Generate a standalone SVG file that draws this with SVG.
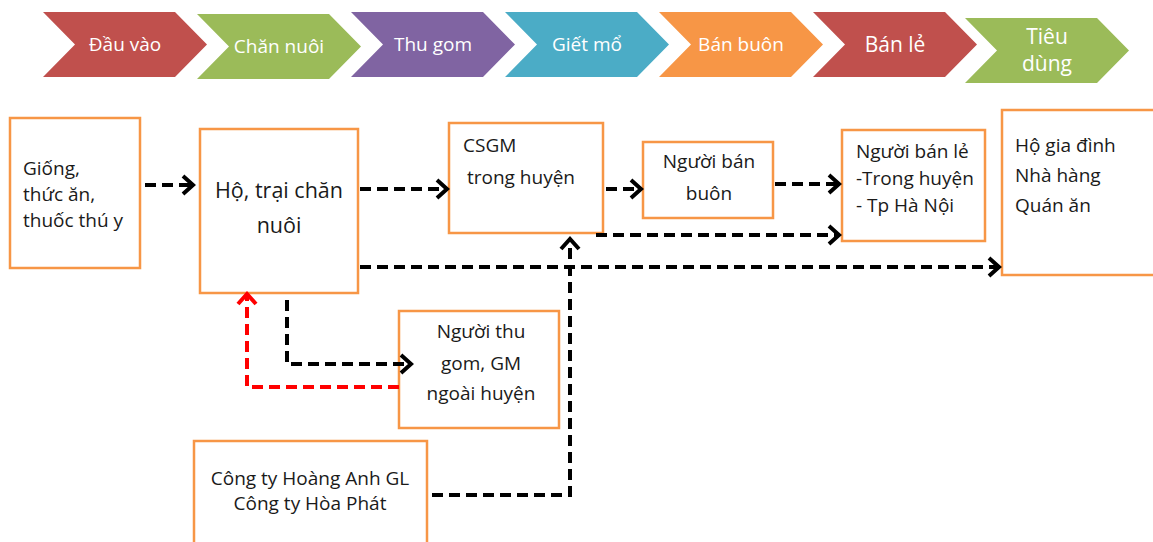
<svg xmlns="http://www.w3.org/2000/svg" width="1153" height="542" viewBox="0 0 1153 542">
<defs>
<style>
.chev-t{font-family:"Open Sans","Liberation Sans",sans-serif;fill:#ffffff;text-anchor:middle;font-size:19px}
.chev-big{font-size:21px}
.box{fill:#ffffff;stroke:#F79646;stroke-width:2.5}
.lbl{font-family:"Open Sans","Liberation Sans",sans-serif;fill:#1a1a1a;font-size:19px}
.mid{text-anchor:middle}
.con{fill:none;stroke:#000000;stroke-width:4;stroke-dasharray:11 6}
.red{stroke:#FF0000}
</style>
<marker id="ah" markerUnits="userSpaceOnUse" markerWidth="24" markerHeight="24" refX="13" refY="12" orient="auto" overflow="visible">
<path d="M3,3 L13,12 L3,21" fill="none" stroke="#000000" stroke-width="4" stroke-dasharray="none"/>
</marker>
<marker id="ahr" markerUnits="userSpaceOnUse" markerWidth="24" markerHeight="24" refX="13" refY="12" orient="auto" overflow="visible">
<path d="M3,3 L13,12 L3,21" fill="none" stroke="#FF0000" stroke-width="4" stroke-dasharray="none"/>
</marker>
</defs>
<rect width="1153" height="542" fill="#ffffff"/>

<g id="stages">
<g id="stage-dau-vao"><path d="M43,12 H175 L207,44.5 L175,77 H43 L75,44.5 Z" fill="#C0504D"/><text class="chev-t" x="125" y="51">Đầu vào</text></g>
<g id="stage-chan-nuoi"><path d="M197,14 H329 L361,46.5 L329,79 H197 L229,46.5 Z" fill="#9BBB59"/><text class="chev-t" x="279" y="53">Chăn nuôi</text></g>
<g id="stage-thu-gom"><path d="M351,12 H483 L515,44.5 L483,77 H351 L383,44.5 Z" fill="#8064A2"/><text class="chev-t" x="433" y="51">Thu gom</text></g>
<g id="stage-giet-mo"><path d="M505,12 H637 L669,44.5 L637,77 H505 L537,44.5 Z" fill="#4BACC6"/><text class="chev-t" x="587" y="51">Giết mổ</text></g>
<g id="stage-ban-buon"><path d="M659,12 H791 L823,44.5 L791,77 H659 L691,44.5 Z" fill="#F79646"/><text class="chev-t" x="741" y="51">Bán buôn</text></g>
<g id="stage-ban-le"><path d="M813,12 H945 L977,44.5 L945,77 H813 L845,44.5 Z" fill="#C0504D"/><text class="chev-t chev-big" x="895" y="52">Bán lẻ</text></g>
<g id="stage-tieu-dung"><path d="M965,18 H1097 L1129,50.5 L1097,83 H965 L997,50.5 Z" fill="#9BBB59"/><text class="chev-t chev-big" x="1047" y="44">Tiêu</text><text class="chev-t chev-big" x="1047" y="71">dùng</text></g>
</g>

<g id="node-giong"><rect class="box" x="10" y="118" width="130" height="150"/>
<text class="lbl" x="23" y="175">Giống,</text><text class="lbl" x="23" y="201">thức ăn,</text><text class="lbl" x="23" y="227">thuốc thú y</text></g>

<g id="node-ho-trai"><rect class="box" x="200" y="129" width="158" height="164"/>
<text class="lbl mid" x="279" y="198" style="font-size:21.5px">Hộ, trại chăn</text><text class="lbl mid" x="279" y="233" style="font-size:21.5px">nuôi</text></g>

<g id="node-csgm"><rect class="box" x="449" y="123" width="154" height="110"/>
<text class="lbl" x="463" y="152">CSGM</text><text class="lbl" x="467" y="184">trong huyện</text></g>

<g id="node-ban-buon"><rect class="box" x="643" y="142" width="130" height="76"/>
<text class="lbl mid" x="709" y="168">Người bán</text><text class="lbl mid" x="709" y="200">buôn</text></g>

<g id="node-ban-le"><rect class="box" x="842" y="130" width="143" height="111"/>
<text class="lbl" x="856" y="158">Người bán lẻ</text><text class="lbl" x="856" y="185">-Trong huyện</text><text class="lbl" x="856" y="212">- Tp Hà Nội</text></g>

<g id="node-tieu-dung"><rect class="box" x="1002" y="110" width="160" height="165"/>
<text class="lbl" x="1015" y="152">Hộ gia đình</text><text class="lbl" x="1015" y="182">Nhà hàng</text><text class="lbl" x="1015" y="212">Quán ăn</text></g>

<g id="node-thu-gom"><rect class="box" x="399" y="311" width="160" height="117"/>
<text class="lbl mid" x="481" y="338">Người thu</text><text class="lbl mid" x="481" y="370">gom, GM</text><text class="lbl mid" x="481" y="400">ngoài huyện</text></g>

<g id="node-cong-ty"><rect class="box" x="194" y="441" width="233" height="120"/>
<text class="lbl mid" x="310" y="485">Công ty Hoàng Anh GL</text><text class="lbl mid" x="310" y="510">Công ty Hòa Phát</text></g>

<g id="connectors">
<path class="con" d="M145,185 H193" marker-end="url(#ah)"/>
<path class="con" d="M360,189 H447" marker-end="url(#ah)"/>
<path class="con" d="M360,267 H999" marker-end="url(#ah)"/>
<path class="con" d="M606,189 H641" marker-end="url(#ah)"/>
<path class="con" d="M775,184 H839" marker-end="url(#ah)"/>
<path class="con" d="M596,235 H839" marker-end="url(#ah)"/>
<path class="con" d="M287,300 V364 H411" marker-end="url(#ah)"/>
<path class="con red" d="M399,387 H247 V294" marker-end="url(#ahr)"/>
<path class="con" d="M432,495 H570 V239" marker-end="url(#ah)"/>
</g>
</svg>
